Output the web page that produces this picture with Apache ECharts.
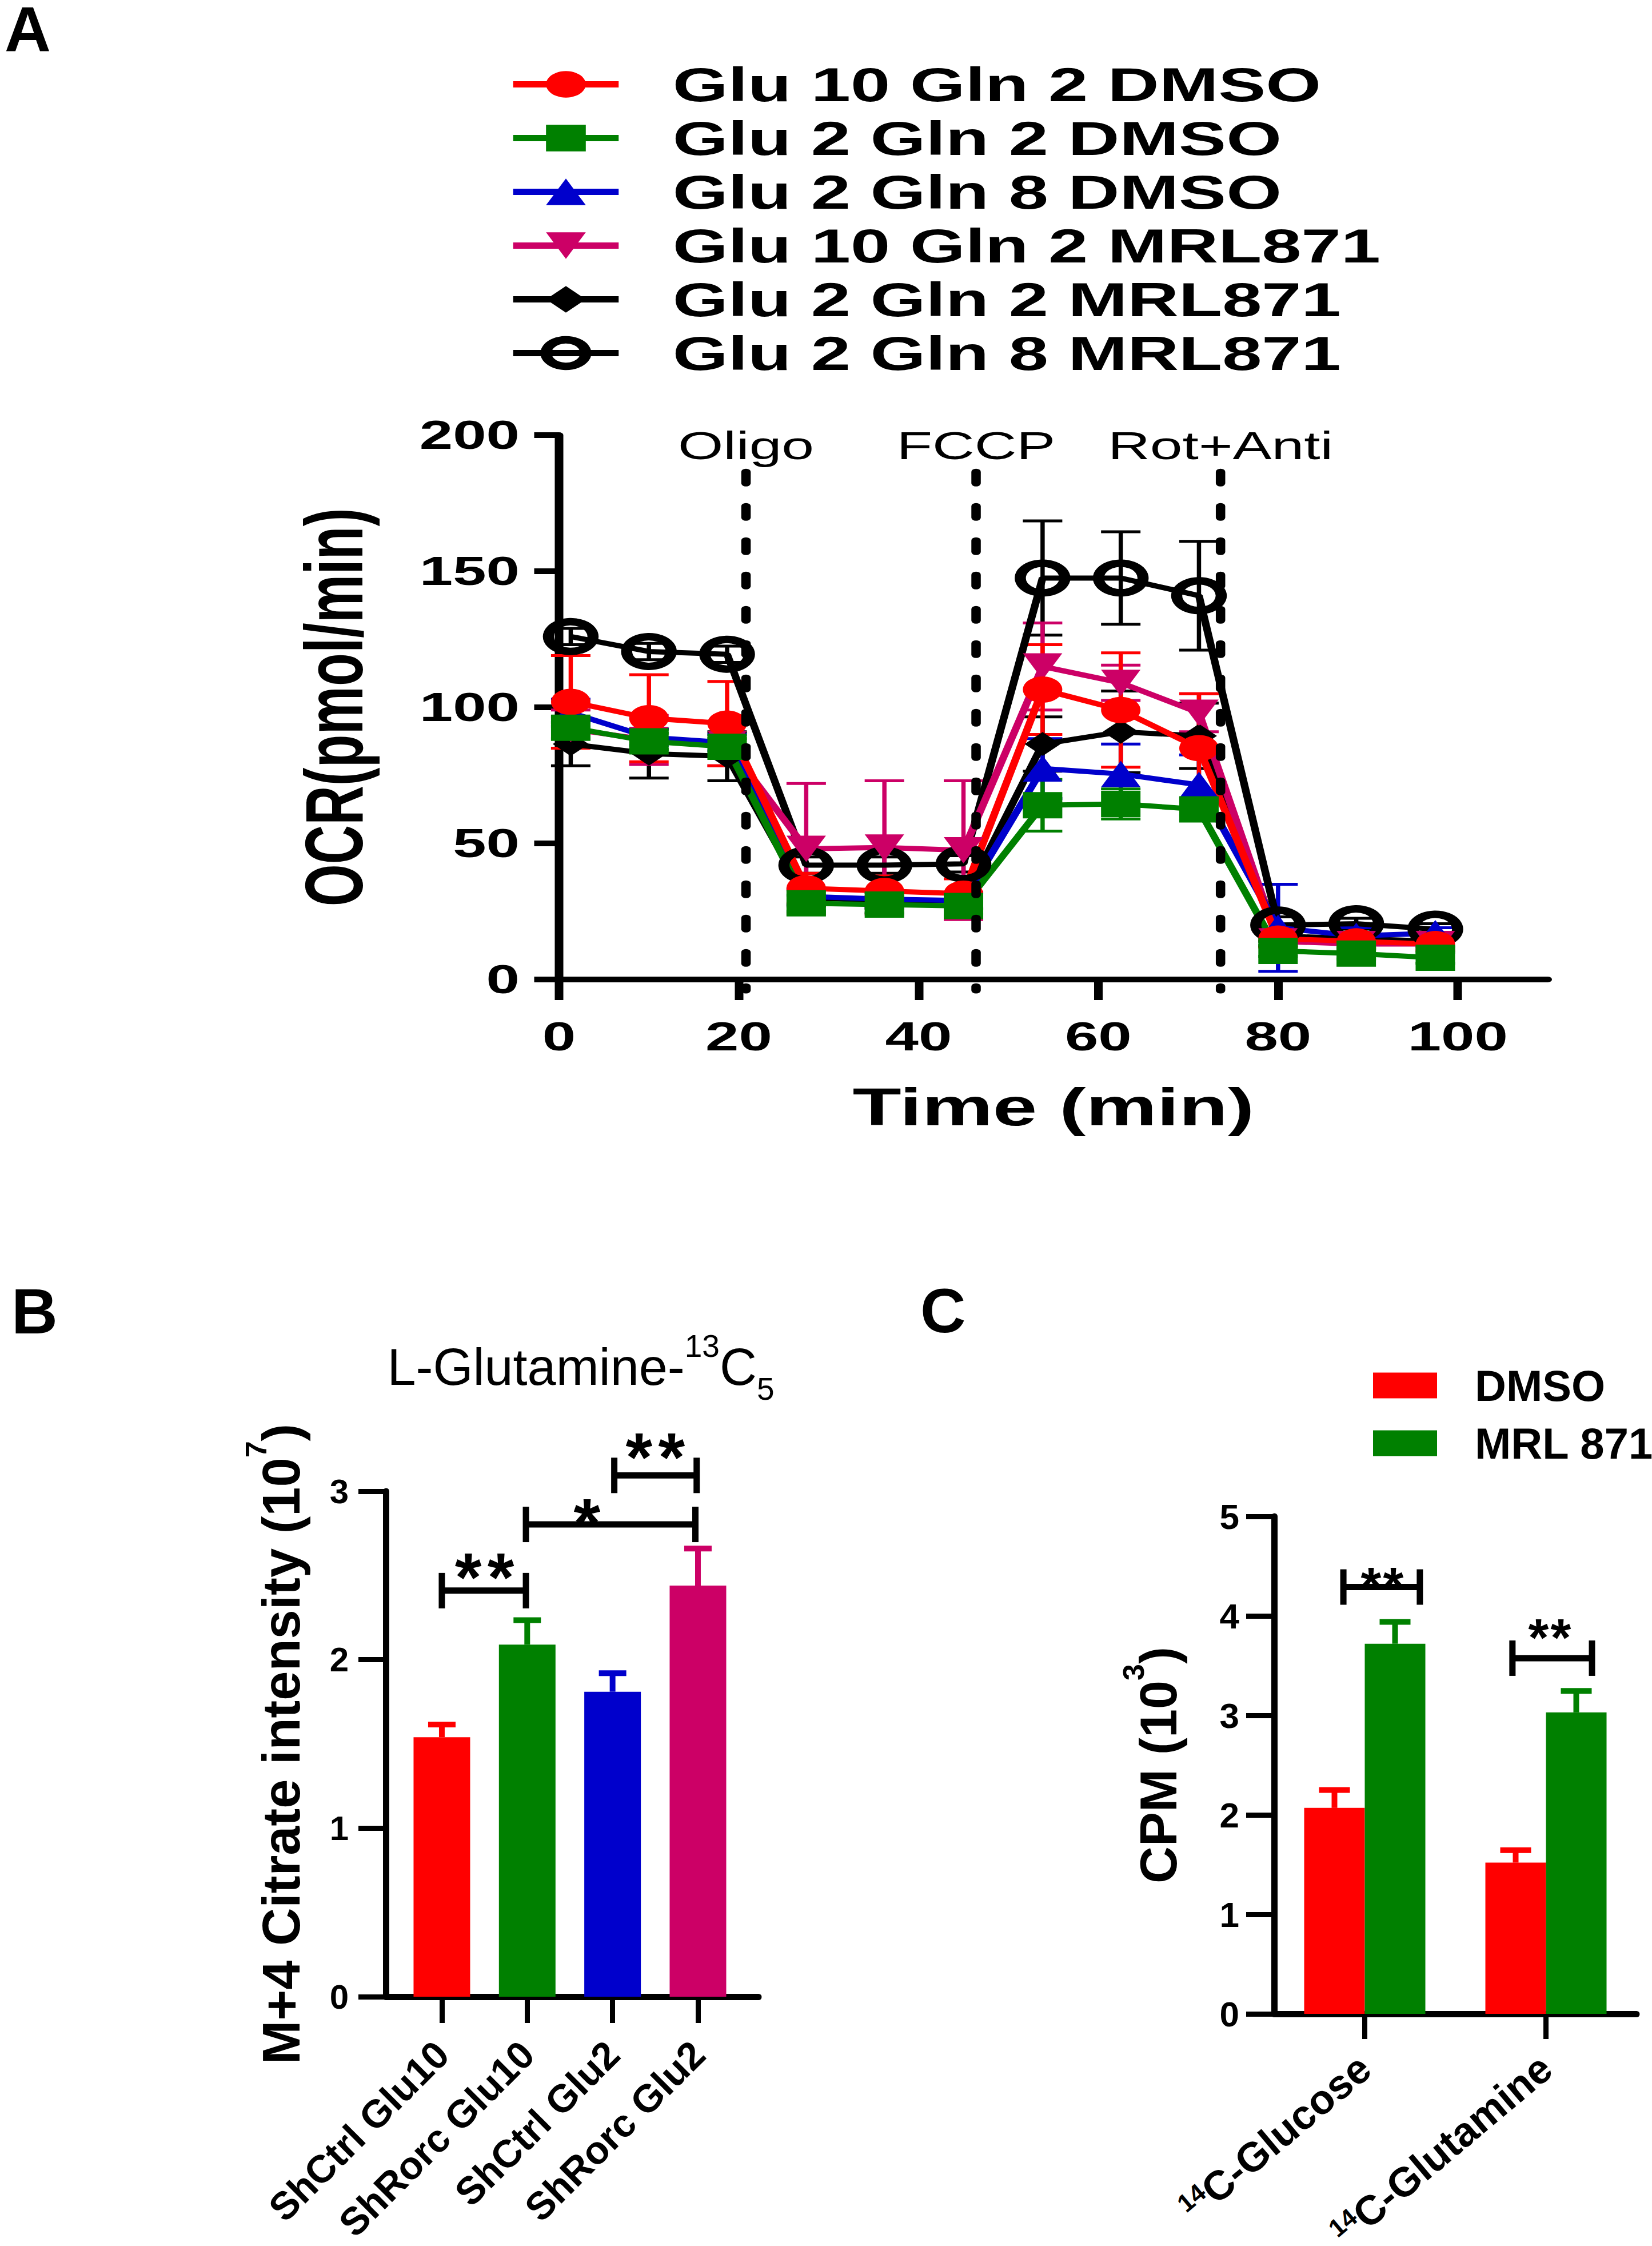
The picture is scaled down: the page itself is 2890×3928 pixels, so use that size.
<!DOCTYPE html>
<html><head><meta charset="utf-8">
<script src="https://cdn.jsdelivr.net/npm/echarts@6/dist/echarts.min.js"></script>
<style>
html,body{margin:0;padding:0;background:#fff;width:2890px;height:3928px;overflow:hidden;}
#ca{position:absolute;left:0;top:0;width:1927px;height:2100px;transform:scaleX(1.5);transform-origin:0 0;}
#cb{position:absolute;left:0;top:0;width:2890px;height:3928px;pointer-events:none;}
</style></head><body>
<div id="ca"></div><div id="cb"></div>
<script>
// ===== Panel A data =====
const timePoints = [1.3, 10.0, 18.7, 27.5, 36.2, 45.0, 53.8, 62.5, 71.2, 80.0, 88.7, 97.5];
const xTicksA = [0, 20, 40, 60, 80, 100];
const glu10Gln2DMSO   = [102, 96, 94, 33.5, 32.5, 31.5, 106.5, 99, 85, 15, 14, 13];
const glu10Gln2DMSOsd = [17, 16, 15.5, 5.5, 5.5, 5.5, 16.5, 21, 20, 3, 2.5, 2.5];
const glu2Gln2DMSO    = [92.5, 87.5, 85.5, 28, 27.5, 27, 64, 64.5, 62.5, 10.5, 9.5, 8];
const glu2Gln2DMSOsd  = [4, 3, 3, 3, 3, 3, 9.5, 5.5, 4, 2, 2, 2];
const glu2Gln8DMSO    = [98, 89, 87, 30.5, 29.5, 29, 77.5, 75.5, 71.5, 19, 16, 17];
const glu2Gln8DMSOsd  = [5, 3, 3, 3, 3, 3, 11, 11, 11, 16, 3, 2];
const glu10Gln2MRL    = [92, 88, 86.5, 48, 48.5, 47.5, 115, 109, 98, 14, 13, 13];
const glu10Gln2MRLsd  = [7, 9, 8, 24, 24.5, 25.5, 16, 6.5, 7, 2, 2, 2];
const glu2Gln2MRL     = [86.5, 83, 82, 30, 29, 29, 86.5, 91, 89.5, 16, 15, 14];
const glu2Gln2MRLsd   = [8, 9, 9, 3, 3, 3, 10, 15, 12, 2, 2, 2];
const glu2Gln8MRL     = [126, 120.5, 119.5, 42, 42, 42.5, 147.5, 147.5, 141, 20, 20.5, 18.5];
const glu2Gln8MRLsd   = [3, 3, 3, 3, 3, 3, 21, 17, 20, 3, 2, 2];
const injectionTimes  = [20.8, 46.4, 73.6];
const injectionLabels = ['Oligo', 'FCCP', 'Rot+Anti'];

// ===== Panel B data =====
const categoriesB = ['ShCtrl Glu10', 'ShRorc Glu10', 'ShCtrl Glu2', 'ShRorc Glu2'];
const valuesB = [1.54, 2.09, 1.81, 2.44];
const errorsB = [0.075, 0.145, 0.11, 0.22];
// [from, to, bracket y, star x, star y, number of stars]
const sigB = [[0, 0.985, 2.41, 0.5, 2.575, 2], [0.985, 2.97, 2.803, 1.70, 2.90, 1], [2.02, 2.985, 3.094, 2.5, 3.288, 2]];

// ===== Panel C data =====
const categoriesC = ['14C-Glucose', '14C-Glutamine'];
const dmsoC = [2.07, 1.52];
const dmsoCsd = [0.18, 0.125];
const mrlC = [3.72, 3.03];
const mrlCsd = [0.22, 0.215];
const sigC = [[-0.118, 0.304, 4.29, 0.096, 4.41, 2], [0.815, 1.254, 3.575, 1.02, 3.89, 2]];

const FONT = '"Liberation Sans", Arial, Helvetica, sans-serif';
const RED = '#FF0000', GREEN = '#008000', BLUE = '#0000CC', MAG = '#CC0066', BLK = '#000000';

// ---------- Chart A (drawn in a horizontally stretched container) ----------
const specA = [
  {name: 'Glu 2 Gln 8 MRL871', v: glu2Gln8MRL, sd: glu2Gln8MRLsd, color: BLK, symbol: 'circle', size: 52, open: true},
  {name: 'Glu 2 Gln 2 MRL871', v: glu2Gln2MRL, sd: glu2Gln2MRLsd, color: BLK, symbol: 'diamond', size: 42},
  {name: 'Glu 10 Gln 2 MRL871', v: glu10Gln2MRL, sd: glu10Gln2MRLsd, color: MAG, symbol: 'triangle', size: 46, rot: 180},
  {name: 'Glu 2 Gln 8 DMSO', v: glu2Gln8DMSO, sd: glu2Gln8DMSOsd, color: BLUE, symbol: 'triangle', size: 46},
  {name: 'Glu 10 Gln 2 DMSO', v: glu10Gln2DMSO, sd: glu10Gln2DMSOsd, color: RED, symbol: 'circle', size: 46},
  {name: 'Glu 2 Gln 2 DMSO', v: glu2Gln2DMSO, sd: glu2Gln2DMSOsd, color: GREEN, symbol: 'rect', size: 46}
];
const legendOrderA = ['Glu 10 Gln 2 DMSO', 'Glu 2 Gln 2 DMSO', 'Glu 2 Gln 8 DMSO', 'Glu 10 Gln 2 MRL871', 'Glu 2 Gln 2 MRL871', 'Glu 2 Gln 8 MRL871'];

function errSeriesA(s) {
  return {
    type: 'custom', silent: true, clip: false, z: 1,
    data: timePoints.map((t, i) => [t, s.v[i], s.sd[i]]),
    renderItem: function (params, api) {
      const x = api.value(0), m = api.value(1), e = api.value(2);
      const a = api.coord([x, m + e]), b = api.coord([x, m - e]);
      const hw = 23, st = {stroke: s.color, lineWidth: 5};
      return {type: 'group', children: [
        {type: 'line', shape: {x1: a[0], y1: a[1], x2: b[0], y2: b[1]}, style: st},
        {type: 'line', shape: {x1: a[0] - hw, y1: a[1], x2: a[0] + hw, y2: a[1]}, style: st},
        {type: 'line', shape: {x1: b[0] - hw, y1: b[1], x2: b[0] + hw, y2: b[1]}, style: st}
      ]};
    }
  };
}
function lineSeriesA(s) {
  const item = s.open ? {color: 'rgba(0,0,0,0)', borderColor: BLK, borderWidth: 13} : {color: s.color, borderWidth: 0};
  return {
    type: 'line', name: s.name, z: 2, clip: false,
    data: timePoints.map((t, i) => [t, s.v[i]]),
    symbol: s.symbol, symbolSize: s.size, symbolRotate: s.rot || 0, showSymbol: true, showAllSymbol: true,
    lineStyle: {color: s.color, width: 9}, itemStyle: item
  };
}
const seriesA = [];
specA.forEach(s => seriesA.push(errSeriesA(s)));
specA.forEach(s => seriesA.push(lineSeriesA(s)));
seriesA.push({
  type: 'custom', silent: true, clip: false, z: 5,
  data: injectionTimes.map((t, i) => [t, i]),
  renderItem: function (params, api) {
    const t = api.value(0), i = params.dataIndex;
    const p1 = api.coord([t, 186.5]), p2 = api.coord([t, -4]), lp = api.coord([t, 196.2]);
    return {type: 'group', children: [
      {type: 'line', shape: {x1: p1[0], y1: p1[1], x2: p2[0], y2: p2[1]},
       style: {stroke: BLK, lineWidth: 11, lineDash: [20, 40], lineCap: 'round'}},
      {type: 'text', x: lp[0], y: lp[1],
       style: {text: injectionLabels[i], fontSize: 68, fontFamily: FONT, fill: BLK,
               align: 'center', verticalAlign: 'middle', textAlign: 'center', textVerticalAlign: 'middle'}}
    ]};
  }
});

const legendDataA = legendOrderA.map(n => {
  const s = specA.find(q => q.name === n);
  return {
    name: n,
    itemStyle: s.open ? {color: 'rgba(0,0,0,0)', borderColor: BLK, borderWidth: 13} : {color: s.color, borderWidth: 0},
    lineStyle: {color: s.color, width: 11}
  };
});

const optionA = {
  animation: false,
  backgroundColor: 'transparent',
  textStyle: {fontFamily: FONT, color: BLK},
  grid: {left: 652, top: 761, width: 1153, height: 952, containLabel: false, outerBoundsMode: 'none'},
  legend: {
    orient: 'vertical', left: 593, top: 106, padding: 0,
    itemWidth: 123, itemHeight: 58, itemGap: 11, selectedMode: false,
    textStyle: {fontSize: 83, fontWeight: 'bold', color: BLK, fontFamily: FONT, padding: [0, 0, 0, 58]},
    data: legendDataA
  },
  xAxis: {
    type: 'value', min: 0, max: 110,
    axisLine: {show: true, onZero: false, lineStyle: {color: BLK, width: 10}},
    axisTick: {show: true, length: 36, lineStyle: {color: BLK, width: 10}, customValues: xTicksA},
    axisLabel: {show: true, customValues: xTicksA, fontSize: 70, fontWeight: 'bold', color: BLK, margin: 65, fontFamily: FONT},
    splitLine: {show: false},
    name: 'Time (min)', nameLocation: 'middle', nameGap: 176, nameMoveOverlap: false,
    nameTextStyle: {fontSize: 93, fontWeight: 'bold', color: BLK, fontFamily: FONT}
  },
  yAxis: {
    type: 'value', min: 0, max: 200, interval: 50,
    axisLine: {show: true, onZero: false, lineStyle: {color: BLK, width: 10}},
    axisTick: {show: true, length: 29, lineStyle: {color: BLK, width: 10}},
    axisLabel: {show: true, fontSize: 70, fontWeight: 'bold', color: BLK, margin: 46, fontFamily: FONT},
    splitLine: {show: false},
    name: 'OCR(pmol/min)', nameLocation: 'middle', nameGap: 215, nameMoveOverlap: false,
    nameTextStyle: {fontSize: 95, fontWeight: 'bold', color: BLK, fontFamily: FONT}
  },
  series: seriesA
};

// ---------- Chart B + C (not stretched) ----------
const colorsB = [RED, GREEN, BLUE, MAG];
function bracketSeries(data, xi, yi, fontSize, spacing) {
  return {
    type: 'custom', silent: true, clip: false, z: 6, xAxisIndex: xi, yAxisIndex: yi,
    data: data,
    renderItem: function (params, api) {
      const x1 = api.value(0), x2 = api.value(1), y = api.value(2);
      const sx = api.value(3), sy = api.value(4), n = api.value(5);
      const a = api.coord([x1, y]), b = api.coord([x2, y]), c = api.coord([sx, sy]);
      const st = {stroke: BLK, lineWidth: 11};
      const ch = [
        {type: 'line', shape: {x1: a[0], y1: a[1], x2: b[0], y2: b[1]}, style: st},
        {type: 'line', shape: {x1: a[0], y1: a[1] - 31, x2: a[0], y2: a[1] + 31}, style: st},
        {type: 'line', shape: {x1: b[0], y1: b[1] - 31, x2: b[0], y2: b[1] + 31}, style: st}
      ];
      for (let k = 0; k < n; k++) {
        ch.push({type: 'text', x: c[0] + (k - (n - 1) / 2) * spacing, y: c[1] + 0.21 * fontSize,
          style: {text: '*', fontSize: fontSize, fontWeight: 'bold', fontFamily: FONT, fill: BLK,
                  align: 'center', verticalAlign: 'middle', textAlign: 'center', textVerticalAlign: 'middle'}});
      }
      return {type: 'group', children: ch};
    }
  };
}
function upErrSeries(vals, sds, colors, xi, yi, pxOffset, capHalf) {
  return {
    type: 'custom', silent: true, clip: false, z: 3, xAxisIndex: xi, yAxisIndex: yi,
    data: vals.map((v, i) => [i, v, sds[i]]),
    renderItem: function (params, api) {
      const i = api.value(0), m = api.value(1), e = api.value(2);
      const a = api.coord([i, m]), b = api.coord([i, m + e]);
      const x = a[0] + pxOffset;
      const col = colors[params.dataIndex];
      const st = {stroke: col, lineWidth: 10};
      return {type: 'group', children: [
        {type: 'line', shape: {x1: x, y1: a[1], x2: x, y2: b[1]}, style: st},
        {type: 'line', shape: {x1: x - capHalf, y1: b[1], x2: x + capHalf, y2: b[1]}, style: st}
      ]};
    }
  };
}
const axisBase = {
  axisLine: {show: true, onZero: false, lineStyle: {color: BLK, width: 11}},
  splitLine: {show: false}
};
const letterStyle = (t, fs) => ({text: t, fontSize: fs, fontWeight: 'bold', fontFamily: FONT, fill: BLK, lineHeight: 90,
  align: 'left', verticalAlign: 'top', textAlign: 'left', textVerticalAlign: 'top'});

const optionBC = {
  animation: false,
  backgroundColor: 'transparent',
  textStyle: {fontFamily: FONT, color: BLK},
  grid: [
    {left: 675, top: 2608, width: 652, height: 884, containLabel: false, outerBoundsMode: 'none'},
    {left: 2229, top: 2652, width: 634, height: 870, containLabel: false, outerBoundsMode: 'none'}
  ],
  legend: {
    data: ['DMSO', 'MRL 871'], orient: 'vertical', left: 2402, top: 2385, padding: 0,
    itemWidth: 112, itemHeight: 45, itemGap: 25, icon: 'rect', selectedMode: false,
    textStyle: {fontSize: 76, fontWeight: 'bold', color: BLK, fontFamily: FONT, padding: [0, 0, 0, 61]}
  },
  xAxis: [
    Object.assign({}, axisBase, {
      gridIndex: 0, type: 'value', min: -0.656, max: 3.71,
      axisTick: {show: true, length: 46, lineStyle: {color: BLK, width: 9}, customValues: [0, 1, 2, 3]},
      axisLabel: {show: true, customValues: [0, 1, 2, 3], formatter: v => categoriesB[Math.round(v)],
                  rotate: 45, fontSize: 68, fontWeight: 'bold', color: BLK, margin: 89, fontFamily: FONT}
    }),
    Object.assign({}, axisBase, {
      gridIndex: 1, type: 'category', data: categoriesC, boundaryGap: true,
      axisTick: {show: true, alignWithLabel: true, length: 44, lineStyle: {color: BLK, width: 9}},
      axisLabel: {show: true, interval: 0, rotate: 40, margin: 85, color: BLK,
        formatter: v => '{sup|' + v.slice(0, 2) + '}{a|' + v.slice(2) + '}',
        rich: {a: {fontSize: 72, fontWeight: 'bold', fontFamily: FONT, color: BLK},
               sup: {fontSize: 44, fontWeight: 'bold', fontFamily: FONT, color: BLK, verticalAlign: 'top'}}}
    }),
    {gridIndex: 1, type: 'value', min: -0.5, max: 1.5, show: false}
  ],
  yAxis: [
    Object.assign({}, axisBase, {
      gridIndex: 0, type: 'value', min: 0, max: 3, interval: 1,
      axisTick: {show: true, length: 48, lineStyle: {color: BLK, width: 9}},
      axisLabel: {show: true, fontSize: 60, fontWeight: 'bold', color: BLK, margin: 65, fontFamily: FONT},
      name: '{a|M+4 Citrate intensity (10}{sup|7}{a|)}', nameLocation: 'middle', nameGap: 113, nameMoveOverlap: false,
      nameTextStyle: {fontSize: 92, fontWeight: 'bold', color: BLK, fontFamily: FONT,
        rich: {a: {fontSize: 92, fontWeight: 'bold', lineHeight: 140, fontFamily: FONT, color: BLK},
               sup: {fontSize: 52, fontWeight: 'bold', lineHeight: 52, verticalAlign: 'top', fontFamily: FONT, color: BLK}}}
    }),
    Object.assign({}, axisBase, {
      gridIndex: 1, type: 'value', min: 0, max: 5, interval: 1,
      axisTick: {show: true, length: 49, lineStyle: {color: BLK, width: 9}},
      axisLabel: {show: true, fontSize: 62, fontWeight: 'bold', color: BLK, margin: 61, fontFamily: FONT},
      name: '{a|CPM (10}{sup|3}{a|)}', nameLocation: 'middle', nameGap: 132, nameMoveOverlap: false,
      nameTextStyle: {fontSize: 90, fontWeight: 'bold', color: BLK, fontFamily: FONT,
        rich: {a: {fontSize: 90, fontWeight: 'bold', lineHeight: 140, fontFamily: FONT, color: BLK},
               sup: {fontSize: 52, fontWeight: 'bold', lineHeight: 52, verticalAlign: 'top', fontFamily: FONT, color: BLK}}}
    })
  ],
  graphic: [
    {type: 'text', x: 8, y: 6, style: letterStyle('A', 112)},
    {type: 'text', x: 20, y: 2248, style: letterStyle('B', 112)},
    {type: 'text', x: 1610, y: 2246, style: letterStyle('C', 110)},
    {type: 'text', x: 1016, y: 2391, style: {
      text: '{a|L-Glutamine-}{sup|13}{a|C}{sub|5}', align: 'center', verticalAlign: 'middle',
      textAlign: 'center', textVerticalAlign: 'middle', fill: BLK, fontFamily: FONT, fontSize: 90,
      rich: {a: {fontSize: 90, lineHeight: 130, fontFamily: FONT, fill: BLK, color: BLK},
             sup: {fontSize: 55, lineHeight: 55, verticalAlign: 'top', fontFamily: FONT, fill: BLK, color: BLK},
             sub: {fontSize: 55, lineHeight: 55, verticalAlign: 'bottom', fontFamily: FONT, fill: BLK, color: BLK}}}}
  ],
  series: [
    {type: 'bar', xAxisIndex: 0, yAxisIndex: 0, barWidth: 99, z: 2,
     data: valuesB.map((v, i) => ({value: [i, v], itemStyle: {color: colorsB[i]}}))},
    upErrSeries(valuesB, errorsB, colorsB, 0, 0, 0, 24),
    bracketSeries(sigB, 0, 0, 120, 57),
    {type: 'bar', name: 'DMSO', xAxisIndex: 1, yAxisIndex: 1, barWidth: 106, barGap: '0%', z: 2,
     itemStyle: {color: RED}, data: dmsoC},
    {type: 'bar', name: 'MRL 871', xAxisIndex: 1, yAxisIndex: 1, barWidth: 106, barGap: '0%', z: 2,
     itemStyle: {color: GREEN}, data: mrlC},
    upErrSeries(dmsoC, dmsoCsd, [RED, RED], 2, 1, -53, 27),
    upErrSeries(mrlC, mrlCsd, [GREEN, GREEN], 2, 1, 53, 27),
    bracketSeries(sigC, 2, 1, 92, 39)
  ]
};

const chartA = echarts.init(document.getElementById('ca'), null, {renderer: 'svg'});
chartA.setOption(optionA);
const chartBC = echarts.init(document.getElementById('cb'), null, {renderer: 'svg'});
chartBC.setOption(optionBC);
</script>
</body></html>
